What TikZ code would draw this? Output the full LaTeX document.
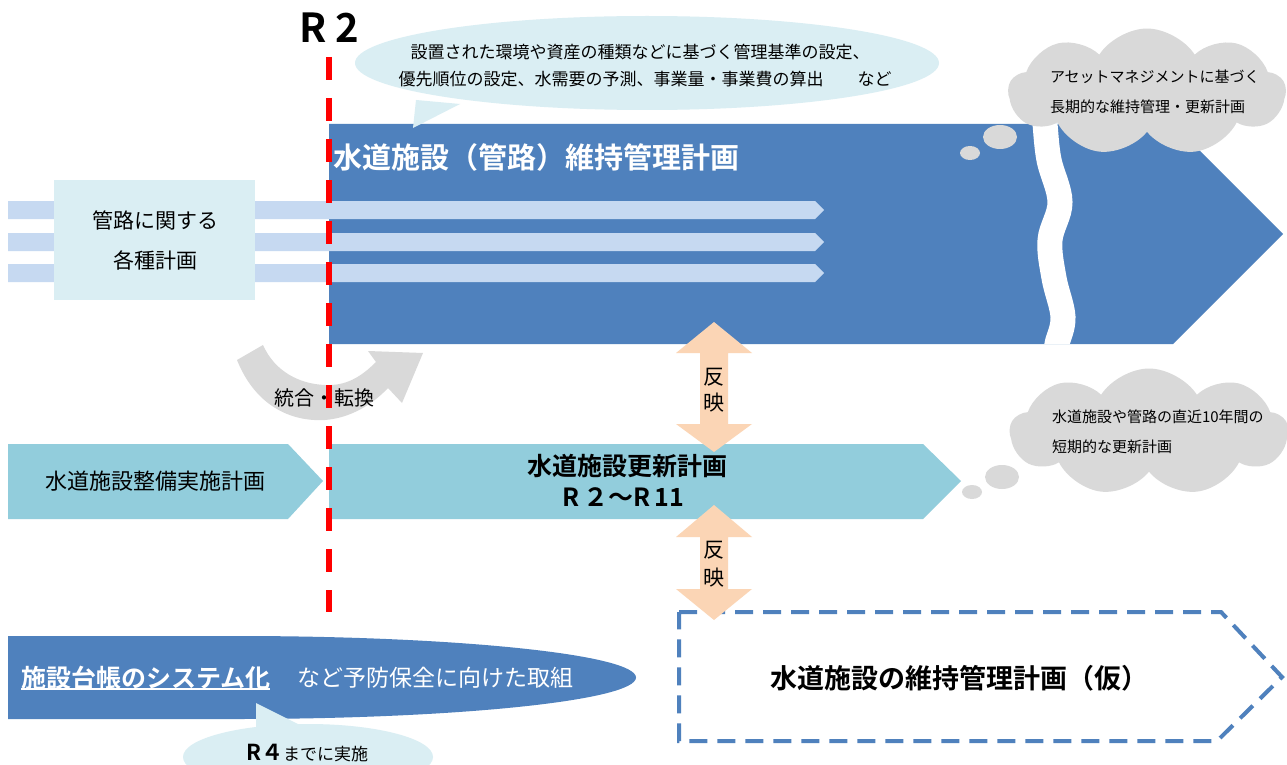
\documentclass[tikz,border=0pt]{standalone}
\usepackage{fontspec}
\setmainfont{Noto Sans CJK JP}[BoldFont={Noto Sans CJK JP Bold}]
\usetikzlibrary{shapes.symbols}
\definecolor{mainblue}{HTML}{4F81BD}
\definecolor{paleblue}{HTML}{DAEEF3}
\definecolor{stripeblue}{HTML}{C6D9F1}
\definecolor{tealband}{HTML}{92CDDC}
\definecolor{cloudgray}{HTML}{D9D9D9}
\definecolor{peach}{HTML}{FBD5B5}
\definecolor{redline}{HTML}{FF0000}
\newcommand{\fsz}[1]{\fontsize{#1}{#1}\selectfont}
\begin{document}
\begin{tikzpicture}[x=1pt,y=-1pt,
  every node/.style={inner sep=0pt,outer sep=0pt},
  stripe/.style={fill=stripeblue},
  peacharrow/.style={fill=peach},
  cloudbox/.style={cloud, cloud puffs=9, cloud puff arc=115, fill=cloudgray, draw=none},
  puff/.style={fill=cloudgray},
  bubble/.style={fill=paleblue},
  label/.style={text=black}]
\useasboundingbox (0,0) rectangle (1287,765);
\fill[white] (0,0) rectangle (1287,765);

% main blue arrow
\fill[mainblue] (329,124) -- (1173,124) -- (1283,234) -- (1173,344) -- (329,344) -- cycle;
\begin{scope}
\clip (329,124) -- (1173,124) -- (1283,234) -- (1173,344) -- (329,344) -- cycle;
\draw[white, line width=25pt] plot[smooth, tension=0.6] coordinates {(1044,110) (1045,124) (1049,160) (1060,202) (1050,240) (1054,278) (1063,317) (1057,344) (1055,360)};
\end{scope}

% stripes
\fill[stripe] (8,201) -- (815,201) -- (824,210) -- (815,219) -- (8,219) -- cycle;
\fill[stripe] (8,233) -- (815,233) -- (824,242) -- (815,251) -- (8,251) -- cycle;
\fill[stripe] (8,264) -- (815,264) -- (824,273) -- (815,282) -- (8,282) -- cycle;

% left box
\fill[paleblue] (54,180) rectangle (255,300);
\node[font=\fsz{21}] (kanro1) at (155,220) {管路に関する};
\node[font=\fsz{21}] (kanro2) at (155,260) {各種計画};

% title
\node[anchor=west, text=white, font=\fsz{29}\bfseries] (title) at (333,157) {水道施設（管路）維持管理計画};

% speech bubble top
\fill[bubble] (647,63) ellipse [x radius=292pt, y radius=47pt];
\fill[bubble] (416,100) -- (460,104) -- (413,128) -- cycle;
\node[font=\fsz{17}] (b1) at (640,52) {設置された環境や資産の種類などに基づく管理基準の設定、};
\node[font=\fsz{17}] (b2) at (645,79) {優先順位の設定、水需要の予測、事業量・事業費の算出　　など};

% cloud top
\node[cloudbox, minimum width=277pt, minimum height=127pt] (cloudA) at (1147,92) {};
\fill[puff] (1000,137) ellipse [x radius=17pt, y radius=12pt];
\fill[puff] (970,153) ellipse [x radius=10pt, y radius=7pt];
\node[anchor=west, font=\fsz{15}] (ca1) at (1050,77) {アセットマネジメントに基づく};
\node[anchor=west, font=\fsz{15}] (ca2) at (1050,107) {長期的な維持管理・更新計画};

% gray curved arrow
\fill[cloudgray] (237,360) .. controls (255,405) and (290,422) .. (325,420)
  .. controls (350,418) and (372,405) .. (388,388) -- (402,403) -- (423,353) -- (368,351) -- (376,362)
  .. controls (360,378) and (345,386) .. (325,385) .. controls (300,384) and (275,372) .. (263,345) -- cycle;
\node[font=\fsz{20}] (togo) at (324,398) {統合・転換};

% teal arrows
\fill[tealband] (8,444) -- (288,444) -- (323,481) -- (288,519) -- (8,519) -- cycle;
\node[font=\fsz{22}] (seibi) at (155,481) {水道施設整備実施計画};
\fill[tealband] (329,444) -- (923,444) -- (961,481) -- (923,519) -- (329,519) -- cycle;
\node[font=\fsz{25}\bfseries] (koshin1) at (627,466) {水道施設更新計画};
\node[font=\fsz{25}\bfseries] (koshin2) at (623,497) {R\,２～R\,11};

% cloud mid
\node[cloudbox, minimum width=278pt, minimum height=127pt] (cloudB) at (1149,432) {};
\fill[puff] (1002,477) ellipse [x radius=17pt, y radius=12pt];
\fill[puff] (972,492) ellipse [x radius=10pt, y radius=7pt];
\node[anchor=west, font=\fsz{15}] (cb1) at (1052,417) {水道施設や管路の直近10年間の};
\node[anchor=west, font=\fsz{15}] (cb2) at (1052,447) {短期的な更新計画};

% bottom blue ellipse
\fill[mainblue] (8,636) -- (237,636) arc[start angle=90, end angle=-90, x radius=399pt, y radius=41.5pt] -- (8,719) -- cycle;
\node[anchor=west, text=white, font=\fsz{25}\bfseries] (daicho) at (21,678) {施設台帳のシステム化};
\draw[white, line width=2pt] (daicho.south west) ++(0,-1) coordinate (ul1) -- (ul1 -| daicho.south east);
\node[anchor=west, text=white, font=\fsz{23}] (yobo) at (297,678) {など予防保全に向けた取組};

% R4 bubble
\fill[bubble] (308,757) ellipse [x radius=125pt, y radius=33pt];
\fill[bubble] (256,703) -- (302,726) -- (256,735) -- cycle;
\node[font=\fsz{17}] (r4) at (307,753) {{\fsz{22}\bfseries R４}までに実施};

% dashed pentagon
\draw[mainblue, line width=4pt, dash pattern=on 18pt off 10pt] (679,612) -- (1221,612) -- (1282,677) -- (1217,741) -- (679,741) -- cycle;
\node[font=\fsz{27}\bfseries] (kari) at (959,678) {水道施設の維持管理計画（仮）};

% peach double arrows
\fill[peacharrow] (714,322) -- (752,353) -- (728,353) -- (728,424) -- (752,424) -- (714,452) -- (676,424) -- (700,424) -- (700,353) -- (676,353) -- cycle;
\node[font=\fsz{21}] (han1) at (714,377) {反};
\node[font=\fsz{21}] (ei1) at (714,403) {映};
\fill[peacharrow] (714,505) -- (752,537) -- (728,537) -- (728,589) -- (752,589) -- (714,620) -- (676,589) -- (700,589) -- (700,537) -- (676,537) -- cycle;
\node[font=\fsz{21}] (han2) at (714,550) {反};
\node[font=\fsz{21}] (ei2) at (714,578) {映};

% red dashed line and R2
\coordinate (rtop) at (329,57);
\coordinate (rbot) at (329,612);
\draw[redline, line width=6pt, dash pattern=on 23pt off 18pt] (rtop) -- (rbot);
\node[font=\fsz{40}\bfseries] (r2) at (329,28) {R 2};
\end{tikzpicture}
\end{document}
